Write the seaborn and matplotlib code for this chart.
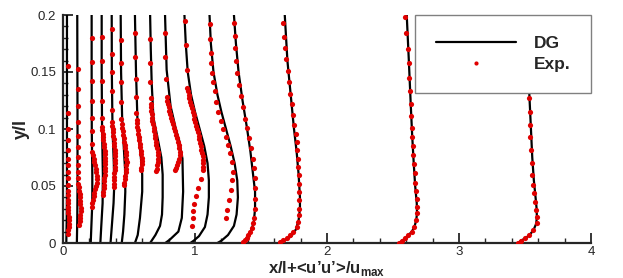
import matplotlib
matplotlib.use('Agg')
import matplotlib.pyplot as plt
from matplotlib.lines import Line2D
from matplotlib.ticker import MultipleLocator
import pandas as pd
import seaborn as sns

# DG profiles, x/l + <u'u'>/u_max against y/l, one station per pair
dg01_y = [0, 0.02, 0.05, 0.1, 0.15, 0.2]
dg01_x = [0.025, 0.028, 0.03, 0.03, 0.03, 0.03]
dg02_y = [0, 0.02, 0.05, 0.1, 0.15, 0.2]
dg02_x = [0.105, 0.108, 0.11, 0.11, 0.109, 0.108]
dg03_y = [0, 0.015, 0.035, 0.06, 0.1, 0.15, 0.2]
dg03_x = [0.21, 0.215, 0.222, 0.222, 0.218, 0.217, 0.217]
dg04_y = [0, 0.015, 0.035, 0.06, 0.1, 0.15, 0.2]
dg04_x = [0.283, 0.29, 0.3, 0.302, 0.296, 0.293, 0.293]
dg05_y = [0, 0.015, 0.035, 0.05, 0.07, 0.1, 0.15, 0.2]
dg05_x = [0.36, 0.37, 0.383, 0.388, 0.385, 0.375, 0.37, 0.369]
dg06_y = [0, 0.01, 0.025, 0.045, 0.065, 0.085, 0.11, 0.15, 0.2]
dg06_x = [0.445, 0.455, 0.465, 0.472, 0.47, 0.46, 0.448, 0.44, 0.437]
dg07_y = [0, 0.007, 0.022, 0.045, 0.06, 0.075, 0.1, 0.15, 0.2]
dg07_x = [0.545, 0.566, 0.583, 0.6, 0.6, 0.59, 0.566, 0.553, 0.545]
dg08_y = [0, 0.007, 0.015, 0.025, 0.04, 0.06, 0.075, 0.09, 0.11, 0.14, 0.17, 0.2]
dg08_x = [0.66, 0.7, 0.735, 0.75, 0.755, 0.755, 0.745, 0.72, 0.685, 0.672, 0.665, 0.66]
dg09_y = [0, 0.003, 0.01, 0.022, 0.045, 0.074, 0.09, 0.1, 0.12, 0.152, 0.2]
dg09_x = [0.775, 0.81, 0.874, 0.9, 0.91, 0.905, 0.88, 0.855, 0.815, 0.785, 0.773]
dg10_y = [0, 0.002, 0.006, 0.014, 0.025, 0.04, 0.055, 0.07, 0.085, 0.1, 0.115, 0.13, 0.15, 0.175, 0.2]
dg10_x = [0.965, 0.99, 1.03, 1.075, 1.095, 1.105, 1.105, 1.095, 1.07, 1.035, 1.0, 0.97, 0.945, 0.93, 0.92]
dg11_y = [0, 0.002, 0.007, 0.015, 0.025, 0.04, 0.055, 0.07, 0.085, 0.1, 0.115, 0.13, 0.15, 0.175, 0.2]
dg11_x = [1.17, 1.2, 1.25, 1.295, 1.315, 1.325, 1.32, 1.3, 1.27, 1.235, 1.2, 1.17, 1.14, 1.12, 1.11]
dg12_y = [0, 0.004, 0.009, 0.018, 0.03, 0.045, 0.06, 0.08, 0.1, 0.125, 0.15, 0.175, 0.2]
dg12_x = [1.365, 1.39, 1.42, 1.445, 1.455, 1.455, 1.44, 1.42, 1.395, 1.36, 1.33, 1.31, 1.295]
dg13_y = [0, 0.003, 0.006, 0.012, 0.02, 0.03, 0.04, 0.06, 0.08, 0.1, 0.13, 0.16, 0.2]
dg13_x = [1.645, 1.69, 1.73, 1.765, 1.785, 1.795, 1.795, 1.785, 1.77, 1.75, 1.725, 1.70, 1.68]
dg14_y = [0, 0.002, 0.004, 0.007, 0.01, 0.0145, 0.02, 0.026, 0.035, 0.05, 0.07, 0.095, 0.12, 0.16, 0.2]
dg14_x = [2.553, 2.568, 2.593, 2.618, 2.643, 2.663, 2.676, 2.682, 2.68, 2.668, 2.657, 2.645, 2.635, 2.62, 2.604]
dg15_y = [0, 0.002, 0.004, 0.007, 0.0115, 0.017, 0.023, 0.03, 0.04, 0.055, 0.075, 0.1, 0.13, 0.16, 0.2]
dg15_x = [3.45, 3.468, 3.5, 3.535, 3.565, 3.585, 3.59, 3.588, 3.58, 3.567, 3.555, 3.545, 3.533, 3.528, 3.52]

# experimental points
exp01_y = [0.155, 0.114, 0.1, 0.09, 0.082, 0.074, 0.068, 0.0625, 0.057, 0.051, 0.046, 0.042,
           0.038, 0.035, 0.032, 0.029, 0.026, 0.023, 0.020, 0.017, 0.014, 0.011, 0.008]
exp01_x = [0.04, 0.04, 0.04, 0.04, 0.04, 0.04, 0.04, 0.04, 0.04, 0.04, 0.04, 0.039,
           0.037, 0.036, 0.036, 0.038, 0.041, 0.044, 0.046, 0.046, 0.044, 0.041, 0.038]
exp02_y = [0.153, 0.135, 0.12, 0.106, 0.094, 0.0845, 0.0757, 0.068, 0.0625, 0.057, 0.052, 0.049,
           0.046, 0.043, 0.040, 0.037, 0.034, 0.031, 0.028, 0.025, 0.022, 0.019, 0.016]
exp02_x = [0.112, 0.112, 0.112, 0.112, 0.112, 0.112, 0.112, 0.112, 0.113, 0.114, 0.116, 0.119,
           0.122, 0.125, 0.128, 0.13, 0.132, 0.133, 0.133, 0.132, 0.13, 0.127, 0.124]
exp03_y = [0.18, 0.159, 0.142, 0.125, 0.11, 0.098, 0.087, 0.080, 0.077, 0.074, 0.071, 0.068,
           0.065, 0.062, 0.059, 0.056, 0.053, 0.050, 0.047, 0.044, 0.041, 0.038, 0.035, 0.032]
exp03_x = [0.217, 0.217, 0.217, 0.217, 0.217, 0.218, 0.219, 0.221, 0.226, 0.232, 0.238, 0.244,
           0.249, 0.252, 0.254, 0.255, 0.254, 0.25, 0.245, 0.238, 0.232, 0.226, 0.222, 0.22]
exp04_y = [0.181, 0.16, 0.142, 0.125, 0.11, 0.102, 0.099, 0.096, 0.093, 0.090, 0.087, 0.084, 0.081,
           0.078, 0.075, 0.072, 0.069, 0.066, 0.063, 0.060, 0.057, 0.054, 0.051, 0.048, 0.045, 0.042]
exp04_x = [0.293, 0.293, 0.293, 0.293, 0.294, 0.295, 0.297, 0.300, 0.303, 0.306, 0.309, 0.312, 0.315,
           0.317, 0.318, 0.319, 0.319, 0.318, 0.317, 0.315, 0.313, 0.311, 0.309, 0.307, 0.305, 0.304]
exp05_y = [0.188, 0.166, 0.15, 0.133, 0.117, 0.106, 0.103, 0.100, 0.097, 0.094, 0.091, 0.088, 0.085,
           0.082, 0.079, 0.076, 0.073, 0.070, 0.067, 0.064, 0.061, 0.058, 0.055, 0.052, 0.049]
exp05_x = [0.37, 0.37, 0.37, 0.37, 0.37, 0.371, 0.373, 0.375, 0.378, 0.381, 0.384, 0.387, 0.39,
           0.393, 0.395, 0.396, 0.396, 0.395, 0.394, 0.392, 0.39, 0.389, 0.388, 0.387, 0.386]
exp06_y = [0.178, 0.158, 0.141, 0.124, 0.109, 0.104, 0.101, 0.098, 0.095, 0.092, 0.089, 0.086,
           0.083, 0.080, 0.077, 0.074, 0.071, 0.068, 0.065, 0.062, 0.059, 0.056, 0.053, 0.051]
exp06_x = [0.44, 0.44, 0.44, 0.441, 0.443, 0.445, 0.448, 0.452, 0.456, 0.46, 0.464, 0.468,
           0.472, 0.476, 0.479, 0.481, 0.482, 0.481, 0.479, 0.476, 0.472, 0.468, 0.465, 0.463]
exp07_y = [0.184, 0.163, 0.144, 0.128, 0.114, 0.108, 0.105, 0.102, 0.099, 0.096, 0.093,
           0.090, 0.087, 0.084, 0.081, 0.078, 0.075, 0.072, 0.069, 0.066, 0.064]
exp07_x = [0.545, 0.547, 0.55, 0.552, 0.555, 0.557, 0.56, 0.563, 0.566, 0.569, 0.573,
           0.577, 0.581, 0.585, 0.589, 0.592, 0.595, 0.596, 0.595, 0.593, 0.591]
exp08_y = [0.179, 0.158, 0.141, 0.127, 0.122, 0.119, 0.116, 0.113, 0.110, 0.107, 0.104, 0.101, 0.098,
           0.095, 0.092, 0.089, 0.086, 0.083, 0.080, 0.077, 0.074, 0.071, 0.068, 0.065, 0.063]
exp08_x = [0.66, 0.66, 0.662, 0.665, 0.666, 0.668, 0.67, 0.672, 0.675, 0.678, 0.682, 0.686, 0.69,
           0.694, 0.698, 0.703, 0.708, 0.713, 0.717, 0.72, 0.721, 0.719, 0.715, 0.71, 0.706]
exp09_y = [0.184, 0.163, 0.144, 0.128, 0.125, 0.122, 0.119, 0.116, 0.113, 0.110, 0.107, 0.104, 0.101,
           0.098, 0.095, 0.092, 0.089, 0.086, 0.083, 0.080, 0.077, 0.074, 0.071, 0.068, 0.066, 0.064]
exp09_x = [0.773, 0.773, 0.78, 0.785, 0.79, 0.795, 0.8, 0.806, 0.812, 0.818, 0.826, 0.834, 0.842,
           0.85, 0.857, 0.864, 0.87, 0.876, 0.88, 0.883, 0.883, 0.878, 0.87, 0.862, 0.855, 0.85]
exp10_y = [0.195, 0.174, 0.152, 0.136, 0.133, 0.130, 0.127, 0.124, 0.121, 0.118, 0.115, 0.112,
           0.109, 0.106, 0.103, 0.100, 0.097, 0.094, 0.091, 0.088, 0.085, 0.082, 0.079, 0.076,
           0.073, 0.070, 0.067, 0.064, 0.056, 0.0485, 0.041, 0.0345, 0.028, 0.0217, 0.0149]
exp10_x = [0.924, 0.93, 0.937, 0.94, 0.945, 0.951, 0.957, 0.963, 0.969, 0.975, 0.982, 0.989,
           0.996, 1.003, 1.009, 1.015, 1.021, 1.027, 1.033, 1.039, 1.044, 1.049, 1.053, 1.057,
           1.06, 1.062, 1.063, 1.062, 1.045, 1.025, 1.008, 0.995, 0.987, 0.982, 0.98]
exp11_y = [0.192, 0.179, 0.167, 0.158, 0.149, 0.141, 0.133, 0.124, 0.115, 0.107, 0.1,
           0.093, 0.086, 0.079, 0.071, 0.0625, 0.055, 0.0465, 0.0377, 0.029, 0.0217]
exp11_x = [1.110, 1.114, 1.122, 1.124, 1.132, 1.139, 1.150, 1.159, 1.177, 1.195, 1.215,
           1.238, 1.252, 1.265, 1.278, 1.285, 1.283, 1.273, 1.260, 1.245, 1.232]
exp12_y = [0.193, 0.182, 0.171, 0.160, 0.149, 0.139, 0.129, 0.119, 0.109, 0.101, 0.092, 0.083, 0.074,
           0.0655, 0.057, 0.048, 0.039, 0.030, 0.0217, 0.0175, 0.0129, 0.0095, 0.007, 0.0045, 0.0026, 0.001]
exp12_x = [1.295, 1.300, 1.305, 1.310, 1.320, 1.330, 1.346, 1.361, 1.379, 1.396, 1.410, 1.424, 1.437,
           1.450, 1.455, 1.457, 1.457, 1.455, 1.447, 1.440, 1.430, 1.418, 1.404, 1.392, 1.380, 1.365]
exp13_y = [0.193, 0.181, 0.171, 0.161, 0.151, 0.141, 0.131, 0.122, 0.112, 0.1035, 0.096, 0.089, 0.0816, 0.074,
           0.067, 0.06, 0.052, 0.045, 0.038, 0.030, 0.0246, 0.0187, 0.0143, 0.0099, 0.007, 0.0047, 0.0026, 0.0011]
exp13_x = [1.669, 1.676, 1.684, 1.692, 1.702, 1.712, 1.722, 1.733, 1.742, 1.750, 1.765, 1.770, 1.775, 1.778,
           1.783, 1.785, 1.788, 1.790, 1.790, 1.790, 1.788, 1.783, 1.770, 1.745, 1.720, 1.694, 1.669, 1.644]
exp14_y = [0.198, 0.184, 0.170, 0.158, 0.145, 0.133, 0.122, 0.111, 0.101, 0.093, 0.085, 0.077, 0.069,
           0.061, 0.053, 0.046, 0.039, 0.032, 0.026, 0.020, 0.0143, 0.0099, 0.007, 0.004, 0.002, 0.0003]
exp14_x = [2.593, 2.600, 2.611, 2.619, 2.623, 2.631, 2.636, 2.639, 2.641, 2.645, 2.650, 2.655, 2.660,
           2.665, 2.670, 2.675, 2.680, 2.684, 2.682, 2.674, 2.661, 2.641, 2.616, 2.591, 2.566, 2.548]
exp15_y = [0.1275, 0.115, 0.1035, 0.0927, 0.0816, 0.07, 0.0596, 0.0509, 0.0436,
           0.0363, 0.029, 0.023, 0.0173, 0.0114, 0.007, 0.004, 0.002, 0.0003]
exp15_x = [3.533, 3.535, 3.538, 3.538, 3.543, 3.551, 3.555, 3.563, 3.571,
           3.578, 3.586, 3.593, 3.588, 3.563, 3.533, 3.500, 3.467, 3.449]

DG_PROFILES = [
	(dg01_x, dg01_y), (dg02_x, dg02_y), (dg03_x, dg03_y), (dg04_x, dg04_y), (dg05_x, dg05_y),
	(dg06_x, dg06_y), (dg07_x, dg07_y), (dg08_x, dg08_y), (dg09_x, dg09_y), (dg10_x, dg10_y),
	(dg11_x, dg11_y), (dg12_x, dg12_y), (dg13_x, dg13_y), (dg14_x, dg14_y), (dg15_x, dg15_y),
]
EXP_PROFILES = [
	(exp01_x, exp01_y), (exp02_x, exp02_y), (exp03_x, exp03_y), (exp04_x, exp04_y), (exp05_x, exp05_y),
	(exp06_x, exp06_y), (exp07_x, exp07_y), (exp08_x, exp08_y), (exp09_x, exp09_y), (exp10_x, exp10_y),
	(exp11_x, exp11_y), (exp12_x, exp12_y), (exp13_x, exp13_y), (exp14_x, exp14_y), (exp15_x, exp15_y),
]

RED = '#e00000'


def _long_frame(profiles):
	parts = []
	for k, (xs, ys) in enumerate(profiles):
		parts.append(pd.DataFrame({'x': xs, 'y': ys, 'station': k}))
	return pd.concat(parts, ignore_index=True)


sns.set_style('ticks')
plt.rcParams['font.family'] = ['Liberation Sans', 'DejaVu Sans']
plt.rcParams['mathtext.fontset'] = 'custom'
plt.rcParams['mathtext.rm'] = 'Liberation Sans'
plt.rcParams['mathtext.bf'] = 'Liberation Sans:bold'

dg = _long_frame(DG_PROFILES)
exp = _long_frame(EXP_PROFILES)

fig = plt.figure(figsize=(6.23, 2.78), dpi=100)
ax = fig.add_axes([63 / 623, 35 / 278, 528 / 623, 228 / 278])

sns.lineplot(data=dg, x='x', y='y', units='station', estimator=None, sort=False,
             color='black', lw=1.6, ax=ax, legend=False, zorder=2)
sns.scatterplot(data=exp, x='x', y='y', color=RED, s=14, linewidth=0,
                ax=ax, legend=False, zorder=3)

ax.set_xlim(0, 4)
ax.set_ylim(0, 0.2)
ax.set_xticks([0, 1, 2, 3, 4])
ax.set_xticklabels(['0', '1', '2', '3', '4'])
ax.set_yticks([0, 0.05, 0.1, 0.15, 0.2])
ax.set_yticklabels(['0', '0.05', '0.1', '0.15', '0.2'])
ax.xaxis.set_minor_locator(MultipleLocator(0.2))
ax.yaxis.set_minor_locator(MultipleLocator(0.01))
ax.tick_params(which='major', direction='in', length=7, width=1.3, labelsize=9.5)
ax.tick_params(which='minor', direction='in', length=3.5, width=1.0)
ax.tick_params(axis='x', which='major', pad=2)
ax.tick_params(axis='y', which='major', pad=5)

for side in ('top', 'right'):
	ax.spines[side].set_visible(False)
for side in ('left', 'bottom'):
	ax.spines[side].set_linewidth(1.6)

ax.set_xlabel('x/l+<u\u2019u\u2019>/u$_\\mathbf{max}$', fontsize=12, fontweight='bold')
ax.set_ylabel('y/l', fontsize=13, fontweight='bold')
ax.xaxis.set_label_coords(0.5, -0.07)
ax.yaxis.set_label_coords(-0.062, 0.5)

handles = [
	Line2D([], [], color='black', lw=1.6),
	Line2D([], [], ls='none', marker='o', ms=3, color=RED, markeredgewidth=0),
]
leg = ax.legend(handles, ['DG', 'Exp.'], loc='upper right', bbox_to_anchor=(1.0, 1.0),
                borderaxespad=0, frameon=True, fancybox=False, framealpha=1,
                edgecolor='#808080', handlelength=4.6, handletextpad=1.0,
                borderpad=1.2, labelspacing=0.35,
                prop={'family': 'Liberation Sans', 'weight': 'bold', 'size': 12.5})
leg.get_frame().set_linewidth(1.0)
leg.set_zorder(10)

fig.savefig('out.png', dpi=100)
